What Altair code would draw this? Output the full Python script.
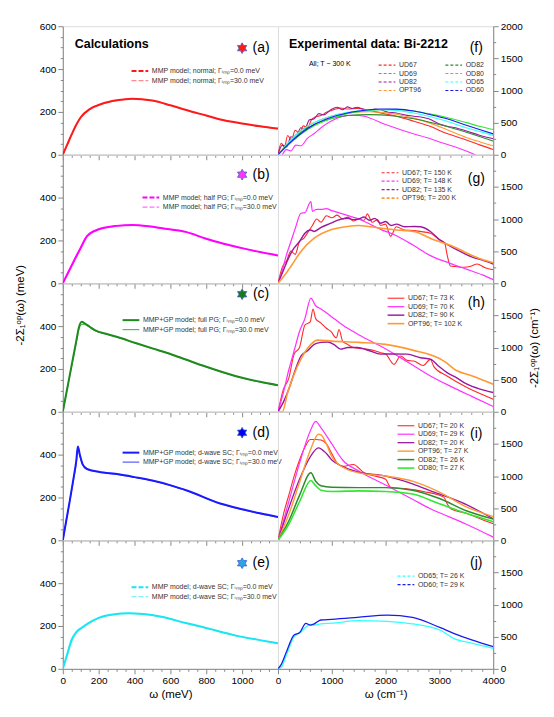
import altair as alt
import pandas as pd

FONT = "Liberation Sans"

# ---------------- Left column: calculations (omega in meV, y in meV) ----------------
a_x = [0, 25, 50, 75, 100, 150, 219, 300, 387, 499, 600, 684, 800, 873, 1000, 1100, 1200]
a_y0 = [0, 48, 96, 140, 175, 213, 238, 254, 262, 253, 231, 210, 183, 166, 146, 133, 122]
a_y30 = [0, 46, 93, 137, 172, 211, 237, 253, 261, 252, 230, 209, 182, 165, 145, 132, 121]

b_x = [0, 25, 50, 75, 100, 135, 200, 300, 387, 480, 555, 686, 800, 873, 1000, 1100, 1200]
b_y0 = [0, 42, 84, 126, 166, 220, 252, 268, 272, 266, 257, 240, 208, 190, 164, 146, 130]
b_y30 = [0, 40, 81, 122, 162, 217, 250, 267, 271, 265, 256, 239, 207, 189, 163, 145, 129]

c_x = [0, 25, 50, 75, 90, 106, 120, 150, 181, 250, 300, 406, 500, 600, 686, 800, 967, 1100, 1200]
c_y0 = [0, 110, 220, 330, 395, 420, 414, 397, 380, 362, 350, 321, 296, 270, 244, 210, 166, 140, 124]
c_y30 = [0, 108, 216, 322, 385, 408, 408, 395, 378, 361, 349, 320, 295, 269, 243, 209, 165, 139, 123]

d_x = [0, 20, 40, 60, 75, 84, 95, 110, 135, 200, 312, 400, 499, 593, 700, 873, 1000, 1100, 1200]
d_y0 = [0, 95, 190, 290, 370, 438, 400, 356, 333, 320, 308, 295, 279, 259, 230, 173, 145, 126, 109]
d_y30 = [0, 94, 188, 286, 362, 425, 396, 354, 332, 319, 307, 294, 278, 258, 229, 172, 144, 125, 108]

e_x = [0, 25, 50, 75, 107, 150, 200, 280, 368, 450, 550, 686, 780, 967, 1100, 1200]
e_y0 = [0, 70, 137, 172, 193, 217, 238, 254, 260, 256, 243, 214, 195, 155, 134, 119]
e_y30 = [0, 62, 126, 165, 189, 214, 236, 253, 259, 255, 242, 213, 194, 154, 133, 118]

# ---------------- Right column: experiment (omega in cm-1, y in cm-1) ----------------
# (f) T ~ 300 K
f_x_ud67 = [0, 60, 120, 180, 250, 320, 400, 470, 550, 620, 700, 800, 900, 1000, 1160, 1300, 1470, 1700, 1907,
            2200, 2525, 2800, 3142, 3500, 3760, 4000]
f_ud67 = [0, 180, 120, 300, 230, 380, 330, 450, 420, 540, 590, 610, 660, 690, 728, 712, 722, 690, 651,
          600, 522, 450, 330, 230, 150, 82]
f_x_ud69 = [80, 160, 241, 330, 426, 550, 673, 800, 982, 1200, 1400, 1600, 2000, 2500, 2833, 3000, 3300, 3500, 3667]
f_ud69 = [0, 80, 60, 150, 140, 260, 330, 420, 520, 595, 615, 600, 470, 330, 250, 200, 120, 60, 0]
f_x_ud82 = [0, 80, 160, 240, 320, 426, 500, 580, 673, 760, 850, 982, 1100, 1200, 1290, 1380, 1470, 1600, 1700,
            1800, 1907, 2050, 2200, 2350, 2525, 2700, 2800, 3000, 3142, 3300, 3500, 3760, 4000]
f_ud82 = [0, 150, 120, 280, 250, 420, 400, 540, 560, 640, 620, 700, 740, 700, 745, 720, 740, 700, 690,
          710, 700, 660, 650, 620, 600, 580, 560, 480, 445, 420, 370, 300, 250]
f_x = [0, 200, 426, 673, 982, 1290, 1700, 1907, 2200, 2525, 2800, 3142, 3500, 3760, 4000]
f_opt96 = [0, 200, 380, 500, 600, 650, 670, 660, 630, 570, 500, 390, 270, 200, 140]
f_od82 = [0, 180, 350, 470, 560, 610, 625, 620, 600, 560, 510, 440, 350, 280, 212]
f_od80 = [0, 160, 320, 450, 560, 640, 690, 700, 700, 680, 640, 580, 500, 440, 392]
f_od65 = [0, 190, 370, 500, 600, 660, 700, 700, 690, 650, 600, 520, 420, 360, 300]
f_od60 = [0, 170, 330, 470, 580, 650, 700, 713, 710, 680, 630, 560, 460, 390, 325]

# (g) T above Tc
g_x_ud67 = [0, 80, 160, 240, 320, 400, 480, 560, 640, 720, 800, 900, 1000, 1100, 1200, 1300, 1400, 1500, 1600,
            1660, 1750, 1850, 1907, 2000, 2093, 2200, 2350, 2525, 2700, 2833, 3000, 3100, 3142, 3204, 3300,
            3450, 3600, 3700, 3850, 4000]
g_ud67 = [0, 250, 350, 500, 450, 650, 700, 800, 900, 1000, 950, 1050, 1020, 1060, 1000, 1030, 970, 1000, 980,
          1080, 950, 990, 900, 920, 730, 880, 830, 820, 800, 780, 680, 620, 450, 270, 260,
          250, 270, 300, 240, 210]
g_x_ud69 = [0, 80, 160, 240, 320, 426, 500, 611, 640, 720, 800, 900, 1000, 1200, 1500, 1907, 2200, 2500, 2833,
            3200, 3500, 3800, 4000]
g_ud69 = [0, 200, 450, 650, 850, 1090, 1100, 1270, 1120, 1150, 1150, 1160, 1130, 1080, 1000, 840, 740, 600, 430,
          310, 220, 130, 57]
g_x_ud82 = [0, 100, 200, 300, 400, 500, 600, 673, 800, 982, 1100, 1290, 1400, 1500, 1600, 1700, 1800, 1907, 2000,
            2100, 2200, 2350, 2525, 2650, 2833, 3000, 3200, 3450, 3600, 3800, 4000]
g_ud82 = [0, 200, 400, 550, 650, 780, 830, 806, 870, 935, 980, 1012, 990, 1000, 1030, 980, 1010, 935, 960,
          900, 920, 880, 884, 880, 806, 680, 580, 470, 410, 360, 300]
g_x_opt96 = [0, 100, 241, 426, 673, 982, 1290, 1500, 1907, 2200, 2525, 2895, 3200, 3450, 3700, 4000]
g_opt96 = [0, 100, 264, 496, 702, 833, 884, 900, 858, 830, 806, 676, 590, 496, 400, 318]

# (h) T just above Tc
h_x_ud67 = [0, 100, 200, 300, 400, 500, 600, 650, 700, 800, 900, 982, 1084, 1135, 1200, 1290, 1400, 1600, 1800,
            1907, 2000, 2155, 2278, 2400, 2525, 2700, 2833, 2900, 3142, 3513, 4000]
h_ud67 = [0, 350, 520, 900, 1000, 1350, 1400, 1600, 1450, 1380, 1300, 1250, 1150, 1281, 1100, 1050, 1000, 980, 950,
          920, 900, 739, 868, 800, 790, 720, 816, 700, 558, 377, 197]
h_x_ud69 = [0, 100, 200, 300, 400, 500, 611, 700, 800, 982, 1200, 1500, 1963, 2400, 2833, 3200, 3600, 4000]
h_ud69 = [0, 300, 650, 950, 1250, 1450, 1770, 1650, 1600, 1488, 1350, 1200, 997, 780, 558, 400, 240, 83]
h_x_ud82 = [0, 100, 200, 300, 426, 550, 673, 800, 920, 1050, 1160, 1300, 1470, 1700, 1907, 2100, 2400, 2650, 2833,
            3000, 3142, 3300, 3513, 3760, 4000]
h_ud82 = [0, 150, 350, 600, 868, 950, 1050, 1080, 1085, 1040, 975, 1000, 1000, 950, 897, 900, 897, 842, 820,
          700, 610, 540, 429, 352, 300]
h_x_opt96 = [0, 80, 179, 364, 611, 735, 1000, 1500, 2000, 2500, 3000, 3100, 3300, 3600, 4000]
h_opt96 = [0, 0, 300, 713, 1050, 1116, 1100, 1080, 1049, 960, 830, 780, 650, 560, 429]

# (i) T well below Tc
i_x_ud67 = [0, 100, 200, 300, 400, 500, 600, 700, 800, 900, 1000, 1100, 1200, 1400, 1600, 1800, 2000, 2093, 2400,
            2700, 3080, 3150, 3210, 3500, 3800, 4000]
i_ud67 = [0, 400, 700, 1000, 1250, 1450, 1570, 1570, 1560, 1500, 1350, 1200, 1150, 1180, 1050, 1000, 950, 826, 800,
          760, 672, 560, 491, 420, 320, 258]
i_x_ud69 = [0, 200, 400, 600, 700, 800, 1000, 1200, 1500, 2000, 2500, 2833, 3000, 3500, 4000]
i_ud69 = [0, 600, 1200, 1700, 1850, 1750, 1500, 1250, 1080, 860, 640, 491, 430, 250, 50]
i_x_ud82 = [0, 200, 400, 600, 750, 900, 1000, 1200, 1500, 2000, 2500, 2900, 3400, 4000]
i_ud82 = [0, 500, 950, 1300, 1440, 1350, 1250, 1150, 1060, 1000, 880, 749, 594, 336]
i_x_opt96 = [0, 200, 400, 600, 750, 800, 900, 1000, 1100, 1500, 2000, 2500, 3000, 3500, 4000]
i_opt96 = [0, 400, 900, 1400, 1650, 1640, 1500, 1300, 1200, 1050, 1000, 920, 750, 520, 370]
i_x_od = [0, 200, 400, 611, 700, 800, 1000, 1500, 2000, 2500, 3000, 3500, 4000]
i_od82 = [0, 300, 700, 1050, 920, 850, 826, 820, 820, 780, 650, 460, 330]
i_od80 = [0, 250, 600, 930, 850, 780, 760, 770, 760, 720, 570, 420, 290]

# (j) overdoped, low T
j_x = [0, 56, 150, 300, 400, 518, 600, 673, 796, 1000, 1476, 2030, 2500, 3018, 3265, 3600, 4000]
j_od60 = [0, 62, 250, 527, 560, 708, 680, 700, 760, 770, 800, 837, 800, 640, 553, 450, 346]
j_od65 = [0, 20, 200, 500, 560, 650, 690, 682, 700, 710, 749, 740, 700, 600, 475, 400, 320]

GI = "Γᵢₘₚ"
STAR = ("M0,-1L0.2887,-0.5L0.866,-0.5L0.5774,0L0.866,0.5L0.2887,0.5L0,1L-0.2887,0.5"
        "L-0.866,0.5L-0.5774,0L-0.866,-0.5L-0.2887,-0.5Z")
LEG_SYM = "M-2.1,0L2.1,0"
W, H = 216, 129
YT_L = "-2Σ₁ᵒᵖ(ω) (meV)"
YT_R = "-2Σ₁ᵒᵖ(ω) (cm⁻¹)"
TFS = 11.5


def panel(series, side, row, letter, legend_xy, dash=None, columns=None, col_pad=None,
          star=None, star_y=22, letter_y=22, texts=(), draw_reversed=False):
    top = row == 0
    bottom = row == 4
    recs, names, colors, widths = [], [], [], []
    for name, xs, ys, col, w in series:
        names.append(name)
        colors.append(col)
        widths.append(w)
    draw_list = list(reversed(series)) if draw_reversed else list(series)
    for name, xs, ys, col, w in draw_list:
        recs += [{"s": name, "x": x, "y": y} for x, y in zip(xs, ys)]
    df = pd.DataFrame(recs)

    if side == "L":
        xdom, xvals, xmaj = [0, 1200], list(range(0, 1200, 50)), 200
        ydom, ymaj = [0, 600], 200
        yvals = list(range(0, 601 if top else 600, 50))
        yorient = "left"
        xtitle = "ω (meV)"
    else:
        xdom, xvals, xmaj = [0, 4000], list(range(0, 4001, 200)), 1000
        ydom, ymaj = [0, 2000], 500
        yvals = list(range(0, 2001 if top else 2000, 250))
        yorient = "right"
        xtitle = "ω (cm⁻¹)"

    xaxis_kw = dict(values=xvals, labels=bottom, grid=False, format="d",
                    labelExpr=f"datum.value % {xmaj} === 0 ? datum.label : ''",
                    tickSize={"condition": {"test": f"datum.value % {xmaj} === 0", "value": 5}, "value": 2.5},
                    labelFlush=False, labelOverlap=False, titleFontWeight="normal", titleFontSize=TFS,
                    titleFont=FONT)
    if bottom:
        xaxis_kw["title"] = xtitle
        xaxis_kw["titlePadding"] = 3
    else:
        xaxis_kw["title"] = ""
    yaxis_kw = dict(values=yvals, orient=yorient, grid=False, format="d",
                    labelExpr=f"datum.value % {ymaj} === 0 ? datum.label : ''",
                    tickSize={"condition": {"test": f"datum.value % {ymaj} === 0", "value": 5}, "value": 2.5},
                    labelFlush=False, labelOverlap=False, titleFontWeight="normal", titleFontSize=TFS,
                    titleFont=FONT)
    if row == 2 and side == "R":
        yaxis_kw["title"] = YT_R
        yaxis_kw["titleAngle"] = 270
        yaxis_kw["titleBaseline"] = "top"
        yaxis_kw["titlePadding"] = 6
    else:
        yaxis_kw["title"] = ""

    leg_kw = dict(orient="none", legendX=legend_xy[0], legendY=legend_xy[1], title=None,
                  symbolType=LEG_SYM, symbolSize=64, symbolStrokeWidth=1.5,
                  labelFontSize=7, labelFont=FONT, labelColor="#333", labelOffset=7,
                  rowPadding=0.5, padding=0, labelLimit=300)
    if dash is not None:
        leg_kw["symbolDash"] = dash
    if columns is not None:
        leg_kw["columns"] = columns
        leg_kw["columnPadding"] = col_pad

    lines = alt.Chart(df).mark_line(clip=True, interpolate="monotone").encode(
        x=alt.X("x:Q", scale=alt.Scale(domain=xdom, nice=False, zero=False), axis=alt.Axis(**xaxis_kw)),
        y=alt.Y("y:Q", scale=alt.Scale(domain=ydom, nice=False), axis=alt.Axis(**yaxis_kw)),
        color=alt.Color("s:N", scale=alt.Scale(domain=names, range=colors), legend=alt.Legend(**leg_kw)),
        strokeWidth=alt.StrokeWidth("s:N", scale=alt.Scale(domain=names, range=widths), legend=None),
        order=alt.Order("x:Q"),
    )
    layers = [lines]
    one = pd.DataFrame({"t": [letter]})
    layers.append(alt.Chart(one).mark_text(font=FONT, fontSize=14, align="center", baseline="middle",
                                           color="black").encode(
        text="t:N", x=alt.value(199), y=alt.value(letter_y)))
    if star is not None:
        layers.append(alt.Chart(pd.DataFrame({"k": [0]})).mark_point(
            shape=STAR, filled=True, fill=star, stroke="#3a5fcd", strokeWidth=0.8, size=115, opacity=1
        ).encode(x=alt.value(180), y=alt.value(star_y)))
    for txt, tx, ty, fs, fw in texts:
        layers.append(alt.Chart(pd.DataFrame({"t": [txt]})).mark_text(
            font=FONT, fontSize=fs, fontWeight=fw, align="left", baseline="middle", color="black"
        ).encode(text="t:N", x=alt.value(tx), y=alt.value(ty)))
    if row == 2 and side == "L":
        layers.append(alt.Chart(pd.DataFrame({"t": [YT_L]})).mark_text(
            font=FONT, fontSize=TFS, angle=270, align="center", baseline="middle", color="black"
        ).encode(text="t:N", x=alt.value(-42), y=alt.value(22)))
    return alt.layer(*layers).properties(width=W, height=H)


def two(name0, name30, x, y0, y30, c0, c30):
    return [(name0, x, y0, c0, 2.0), (name30, x, y30, c30, 1.2)]


pa = panel(two(f"MMP model; normal; {GI}=0.0 meV", f"MMP model; normal; {GI}=30.0 meV",
               a_x, a_y0, a_y30, "#ff1a1a", "#ff8c8c"),
           "L", 0, "(a)", (72.4, 40), dash=[5, 2], star="#ff1a1a", draw_reversed=True,
           texts=[("Calculations", 12, 18, 12.5, "bold")])
pb = panel(two(f"MMP model; half PG; {GI}=0.0 meV", f"MMP model; half PG; {GI}=30.0 meV",
               b_x, b_y0, b_y30, "#ff00ff", "#ff70ff"),
           "L", 1, "(b)", (83.4, 38), dash=[5, 2], star="#ff33ff", star_y=20, letter_y=20, draw_reversed=True)
pc = panel(two(f"MMP+GP model; full PG; {GI}=0.0 meV", f"MMP+GP model; full PG; {GI}=30.0 meV",
               c_x, c_y0, c_y30, "#1f8a1f", "#5cb85c"),
           "L", 2, "(c)", (63.4, 32), star="#1a7a1a", star_y=11, letter_y=11, draw_reversed=True)
pd_ = panel(two(f"MMP+GP model; d-wave SC; {GI}=0.0 meV", f"MMP+GP model; d-wave SC; {GI}=30.0 meV",
                d_x, d_y0, d_y30, "#1a1aff", "#5a5aff"),
            "L", 3, "(d)", (63.4, 36), star="#0000ee", star_y=21, letter_y=21, draw_reversed=True)
pe = panel(two(f"MMP model; d-wave SC; {GI}=0.0 meV", f"MMP model; d-wave SC; {GI}=30.0 meV",
               e_x, e_y0, e_y30, "#19e6f0", "#80f0f5"),
           "L", 4, "(e)", (72.4, 42), dash=[5, 2], star="#29a6e6", star_y=23, letter_y=23, draw_reversed=True)

RED, MAG, PUR, ORA = "#ff2a2a", "#ff33ff", "#991a9f", "#ff9933"
DGR, LGR, CYA, BLU = "#2e8b2e", "#33e633", "#33ffff", "#1a1aee"

pf = panel([("UD67", f_x_ud67, f_ud67, RED, 1.1), ("UD69", f_x_ud69, f_ud69, MAG, 1.1),
            ("UD82", f_x_ud82, f_ud82, PUR, 1.1), ("OPT96", f_x, f_opt96, ORA, 1.1),
            ("OD82", f_x, f_od82, DGR, 1.1), ("OD80", f_x, f_od80, LGR, 1.6),
            ("OD65", f_x, f_od65, CYA, 1.6), ("OD60", f_x, f_od60, BLU, 1.6)],
           "R", 0, "(f)", (104.4, 34), dash=[3, 2], columns=2, col_pad=21,
           texts=[("Experimental data: Bi-2212", 11, 18, 12.5, "bold"), ("All; T ~ 300 K", 31, 38, 7, "normal")])
pg = panel([("UD67; T= 150 K", g_x_ud67, g_ud67, RED, 1.1), ("UD69; T= 148 K", g_x_ud69, g_ud69, MAG, 1.6),
            ("UD82; T= 135 K", g_x_ud82, g_ud82, PUR, 1.1), ("OPT96; T= 200 K", g_x_opt96, g_opt96, ORA, 1.1)],
           "R", 1, "(g)", (107.4, 13), dash=[3, 2], letter_y=24)
ph = panel([("UD67; T= 73 K", h_x_ud67, h_ud67, RED, 1.1), ("UD69; T= 70 K", h_x_ud69, h_ud69, MAG, 1.6),
            ("UD82; T= 90 K", h_x_ud82, h_ud82, PUR, 1.1), ("OPT96; T= 102 K", h_x_opt96, h_opt96, ORA, 1.1)],
           "R", 2, "(h)", (113.4, 10), letter_y=20)
pi = panel([("UD67; T= 20 K", i_x_ud67, i_ud67, RED, 1.1), ("UD69; T= 29 K", i_x_ud69, i_ud69, MAG, 1.6),
            ("UD82; T= 20 K", i_x_ud82, i_ud82, PUR, 1.1), ("OPT96; T= 27 K", i_x_opt96, i_opt96, ORA, 1.1),
            ("OD82; T= 26 K", i_x_od, i_od82, DGR, 1.1), ("OD80; T= 27 K", i_x_od, i_od80, LGR, 1.6)],
           "R", 3, "(i)", (123.4, 9), letter_y=22)
pj = panel([("OD65; T= 26 K", j_x, j_od65, CYA, 1.3), ("OD60; T= 29 K", j_x, j_od60, BLU, 1.3)],
           "R", 4, "(j)", (123.4, 31), dash=[3, 2], letter_y=23)

chart = alt.concat(pa, pf, pb, pg, pc, ph, pd_, pi, pe, pj, columns=2, spacing=0, bounds="flush").resolve_scale(
    x="independent", y="independent", color="independent", strokeWidth="independent"
).resolve_legend(color="independent", strokeWidth="independent").properties(
    padding={"left": 6, "top": 11, "right": 5, "bottom": 5}
).configure_view(stroke="black", strokeWidth=0.8).configure_axis(
    labelFont=FONT, labelFontSize=10, labelColor="#333", tickColor="black", domainColor="black",
    titleFont=FONT, titleFontSize=TFS, titleFontWeight="normal", titleColor="black", labelPadding=2,
    domainWidth=0.8, tickWidth=0.8
).configure(font=FONT, background="white")

chart.save("out.html", embed_options={"renderer": "svg", "actions": False})
